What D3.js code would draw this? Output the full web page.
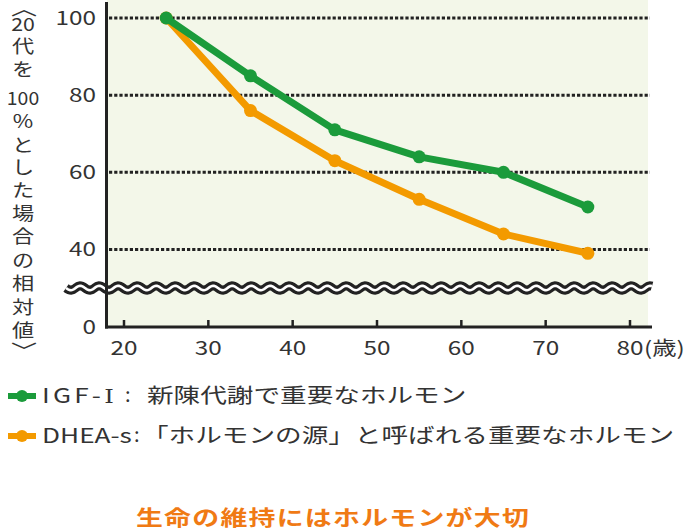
<!DOCTYPE html>
<html><head><meta charset="utf-8">
<script src="https://cdn.jsdelivr.net/npm/d3@7"></script>
<style>
html,body{margin:0;padding:0;background:#fff;}
svg{display:block;}
text{font-family:"Noto Sans CJK JP","Noto Sans",sans-serif;fill:#333;}
</style></head>
<body>
<svg id="c" width="694" height="532"></svg>
<script>
const ages = [25, 35, 45, 55, 65, 75];
const igf = [100, 85, 71, 64, 60, 51];
const dhea = [100, 76, 63, 53, 44, 39];
const xTicks = [20, 30, 40, 50, 60, 70, 80];
const yTicks = [0, 40, 60, 80, 100];
const gridValues = [40, 60, 80, 100];
const seriesCode = [["IGF-", "Ⅰ"], ["DHEA-s", ""]];
const seriesDesc = ["新陳代謝で重要なホルモン", "「ホルモンの源」と呼ばれる重要なホルモン"];
const yLabelParts = ["︿", "20", "代", "を", "100", "%", "と", "し", "た", "場", "合", "の", "相", "対", "値", "﹀"];
const title = "生命の維持にはホルモンが大切";
const xUnit = "(歳)";

const GREEN = "#1b9b3b", ORANGE = "#f39a00";
const SX = 1.28;
const svg = d3.select("#c");

const x = d3.scaleLinear().domain([20, 80]).range([124, 630]);
const y = d3.scaleLinear().domain([0, 30, 100]).range([327, 288, 18]);

// plot background
svg.append("rect").attr("x", 107).attr("y", 0).attr("width", 541).attr("height", 327).attr("fill", "#f3f7e9");

// grid
svg.append("g").selectAll("line").data(gridValues).join("line")
  .attr("x1", 109).attr("x2", 650)
  .attr("y1", d => y(d)).attr("y2", d => y(d))
  .attr("stroke", "#222").attr("stroke-width", 3).attr("stroke-dasharray", "3.2,2");

// wave break
const waveX = d3.range(66, 653, 1);
const wave = d3.line().x(d => d).y(d => y(30) + 2.2 * Math.sin((d - 66) / 19 * 2 * Math.PI));
svg.append("path").attr("d", wave(waveX)).attr("fill", "none").attr("stroke", "#222").attr("stroke-width", 9);
svg.append("path").attr("d", wave(waveX)).attr("fill", "none").attr("stroke", "#fff").attr("stroke-width", 2.6);

// axes lines
svg.append("line").attr("x1", 106.5).attr("x2", 106.5).attr("y1", 2).attr("y2", 328.5).attr("stroke", "#222").attr("stroke-width", 3);
svg.append("line").attr("x1", 105).attr("x2", 652).attr("y1", 327).attr("y2", 327).attr("stroke", "#222").attr("stroke-width", 3);

// x ticks
svg.append("g").selectAll("line").data(xTicks).join("line")
  .attr("x1", d => x(d)).attr("x2", d => x(d)).attr("y1", 327).attr("y2", 320)
  .attr("stroke", "#222").attr("stroke-width", 2.5);

function stretchText(sel, tx, ty, s, anchor, size, sx) {
  return sel.append("text")
    .attr("transform", `translate(${tx},${ty}) scale(${sx || SX},1)`)
    .attr("text-anchor", anchor).attr("font-size", size).text(s);
}

const gx = svg.append("g");
xTicks.forEach(t => stretchText(gx, x(t), 355, String(t), "middle", 19));
stretchText(gx, x(80) + 14, 355, xUnit, "start", 19);

const gy = svg.append("g");
yTicks.forEach(t => stretchText(gy, 96, y(t) + 7, String(t), "end", 19));

// y label vertical
const gl = svg.append("g");
const yPos = [7, 24, 46, 69, 98, 121, 145, 167, 190, 213, 236, 260, 283, 307, 330, 350];
yLabelParts.forEach((p, i) => {
  if (p === "︿" || p === "﹀") {
    gl.append("text").attr("transform", `translate(24,${yPos[i]}) scale(1.45,1)`)
      .attr("text-anchor", "middle").attr("dominant-baseline", "central")
      .attr("font-size", 18).text(p);
    return;
  }
  const sx = p.length > 2 ? 1.05 : (p.length > 1 ? 1.15 : 1.2);
  stretchText(gl, 23, yPos[i] + 7, p, "middle", 18.5, sx);
});

// lines
const line = d3.line().x((d, i) => x(ages[i])).y(d => y(d));
[[dhea, ORANGE], [igf, GREEN]].forEach(([vals, col]) => {
  svg.append("path").attr("d", line(vals)).attr("fill", "none").attr("stroke", col)
    .attr("stroke-width", 7).attr("stroke-linejoin", "round");
  svg.append("g").selectAll("circle").data(vals).join("circle")
    .attr("cx", (d, i) => x(ages[i])).attr("cy", d => y(d)).attr("r", 6.5).attr("fill", col);
});

// legend
const legY = [396, 436];
const codeSpacing = [2.5, 0];
const colonX = [125, 134];
const descX = [147, 142];
[GREEN, ORANGE].forEach((col, i) => {
  svg.append("line").attr("x1", 8).attr("x2", 36).attr("y1", legY[i]).attr("y2", legY[i])
    .attr("stroke", col).attr("stroke-width", 6);
  svg.append("circle").attr("cx", 22).attr("cy", legY[i]).attr("r", 6).attr("fill", col);
  const t = svg.append("text").attr("transform", `translate(42,${legY[i] + 7}) scale(${SX},1)`)
    .attr("font-size", 20.5).attr("letter-spacing", codeSpacing[i]);
  t.append("tspan").text(seriesCode[i][0]);
  if (seriesCode[i][1]) t.append("tspan").style("font-family", "'DejaVu Serif','Liberation Serif',serif").attr("font-size", 19).text(seriesCode[i][1]);
  svg.append("text").attr("x", colonX[i]).attr("y", legY[i] + 6).attr("font-size", 20).text(":");
  stretchText(svg, descX[i], legY[i] + 7, seriesDesc[i], "start", 20.8);
});

// title
svg.append("text").attr("transform", `translate(333,525) scale(${SX},1)`)
  .attr("text-anchor", "middle").attr("font-size", 21).attr("font-weight", "bold")
  .attr("letter-spacing", 1).style("fill", "#f07a14").text(title);
</script>
</body></html>
